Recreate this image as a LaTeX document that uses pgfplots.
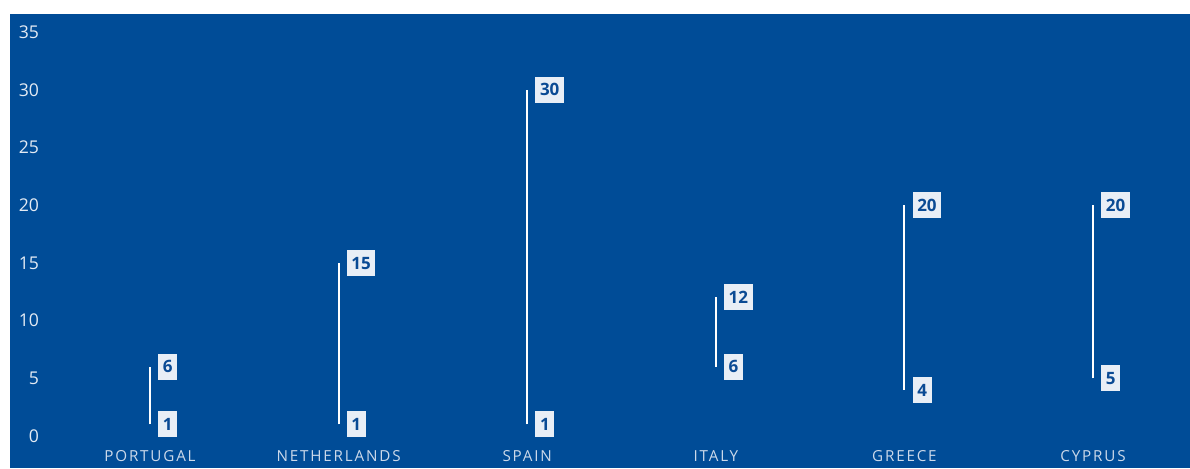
\documentclass[border=0pt]{standalone}
\usepackage{pgfplots}
\pgfplotsset{compat=1.18}
\usepackage{fontspec}
\setmainfont{Open Sans}
\newfontfamily\catfont[LetterSpace=12]{Open Sans}
\definecolor{bgblue}{HTML}{004C97}
\definecolor{boxfill}{HTML}{E8EEF6}
\definecolor{boxtext}{HTML}{0A4A94}
\definecolor{ticktext}{HTML}{E4EBF4}
\definecolor{cattext}{HTML}{CCD9EA}
\begin{document}
\begin{tikzpicture}
\path[use as bounding box, fill=white] (0,0) rectangle (595pt,234pt);
\begin{axis}[
  at={(5pt,0pt)}, anchor=south west,
  width=590pt, height=227pt,
  scale only axis,
  xmin=-0.7423, xmax=5.514,
  ymin=-2.772, ymax=36.56,
  axis background/.style={fill=bgblue},
  axis line style={draw=none},
  major tick length=0pt,
  xtick={0,1,2,3,4,5},
  xticklabels={PORTUGAL,NETHERLANDS,SPAIN,ITALY,GREECE,CYPRUS},
  xticklabel style={anchor=base, yshift=3.5pt, font=\catfont\fontsize{7.6}{9}\selectfont, text=cattext},
  ytick={0,5,...,35},
  yticklabel style={anchor=east, xshift=18pt, font=\fontsize{8.8}{10}\selectfont, text=ticktext},
  /pgf/number format/assume math mode=true,
  nodes near coords,
  every node near coord/.append style={
    anchor=west, xshift=3.6pt,
    fill=boxfill, text=boxtext,
    font=\bfseries\fontsize{8.5}{9}\selectfont,
    inner xsep=2.3pt, inner ysep=3.4pt,
    text height=6.2pt, text depth=0pt},
]
\addplot[white, line width=1pt, mark=none] coordinates {(0,1) (0,6)};
\addplot[white, line width=1pt, mark=none] coordinates {(1,1) (1,15)};
\addplot[white, line width=1pt, mark=none] coordinates {(2,1) (2,30)};
\addplot[white, line width=1pt, mark=none] coordinates {(3,6) (3,12)};
\addplot[white, line width=1pt, mark=none] coordinates {(4,4) (4,20)};
\addplot[white, line width=1pt, mark=none] coordinates {(5,5) (5,20)};
\end{axis}
\end{tikzpicture}
\end{document}
